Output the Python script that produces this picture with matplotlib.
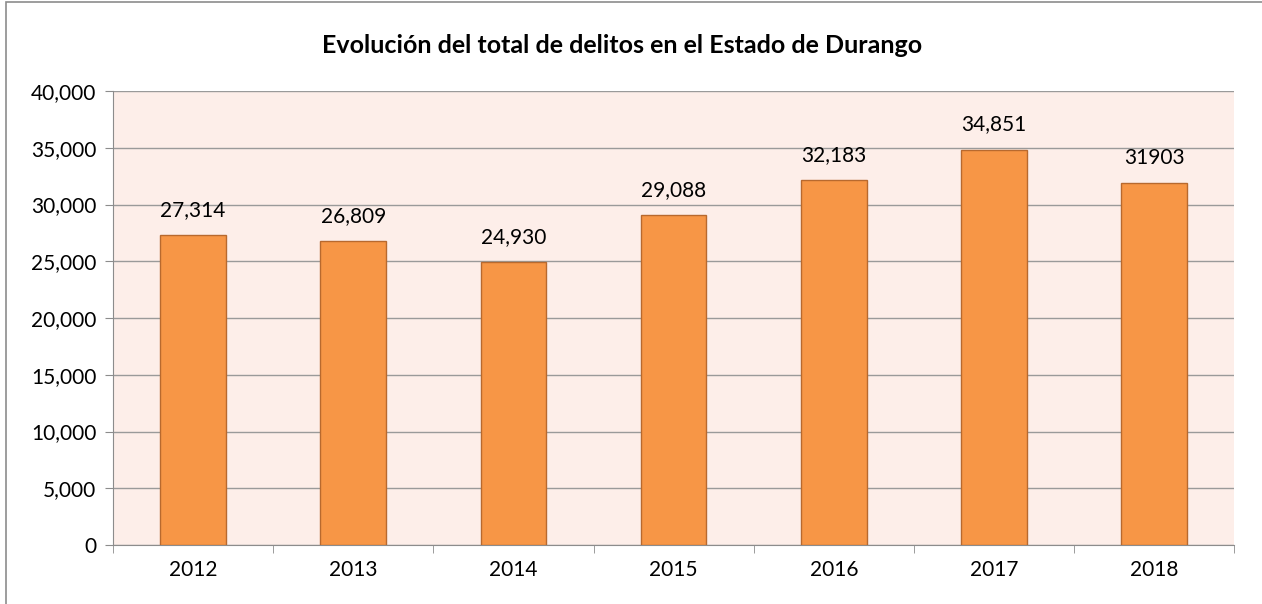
import matplotlib.pyplot as plt
from matplotlib.patches import Rectangle

# Datos
anios = ["2012", "2013", "2014", "2015", "2016", "2017", "2018"]
delitos = [27314, 26809, 24930, 29088, 32183, 34851, 31903]
etiquetas = ["27,314", "26,809", "24,930", "29,088", "32,183", "34,851", "31903"]
y_ticks = [0, 5000, 10000, 15000, 20000, 25000, 30000, 35000, 40000]

plt.rcParams['font.family'] = ['Lato', 'DejaVu Sans']

fig = plt.figure(figsize=(12.62, 6.04), dpi=100)
ax = fig.add_axes([0.0895, 0.0977, 0.8885, 0.7515])

# Marco exterior del gráfico (recortado a la derecha y abajo)
fig.patches.append(Rectangle((0.005, -0.01), 1.0, 1.006, transform=fig.transFigure,
                             fill=False, edgecolor="#8c8c8c", linewidth=1.2))

ax.set_facecolor("#fdeee9")
x = range(len(anios))
ax.bar(x, delitos, width=0.41, color="#f79646", edgecolor="#b8692e", linewidth=1, zorder=3)

# etiquetas de valor sobre las barras
for i, v in enumerate(delitos):
    ax.annotate(etiquetas[i], (i, v), xytext=(0, 18), textcoords="offset points",
                ha="center", va="center", fontsize=15, zorder=4)

ax.set_xlim(-0.5, len(anios) - 0.5)
ax.set_ylim(0, 40000)
ax.set_yticks(y_ticks)
ax.set_yticklabels([f"{t:,}" for t in y_ticks], fontsize=15)
ax.set_xticks(list(x))
ax.set_xticklabels(anios, fontsize=15)
ax.tick_params(axis="x", length=0, pad=11)
ax.tick_params(axis="y", length=6, color="#8c8c8c", pad=6)

# marcas entre categorías
ax.set_xticks([i - 0.5 for i in range(len(anios) + 1)], minor=True)
ax.tick_params(axis="x", which="minor", length=6, color="#8c8c8c")

ax.grid(axis="y", color="#9a9a9a", linewidth=1, zorder=0)
for s in ["top", "right"]:
    ax.spines[s].set_visible(False)
ax.spines["left"].set_color("#8c8c8c")
ax.spines["bottom"].set_color("#8c8c8c")

fig.text(0.493, 0.925, "Evolución del total de delitos en el Estado de Durango",
         ha="center", va="center", fontsize=18, fontweight="bold")

fig.savefig("out.png", dpi=100)
